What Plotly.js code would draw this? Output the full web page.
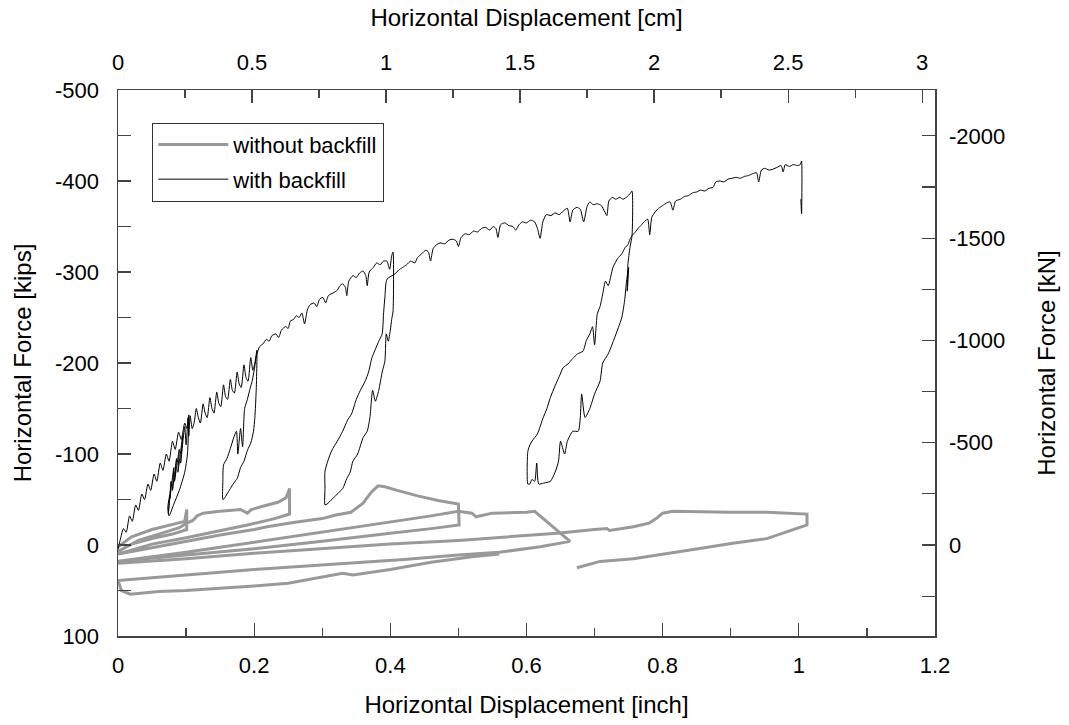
<!DOCTYPE html>
<html>
<head>
<meta charset="utf-8">
<script src="https://cdn.plot.ly/plotly-3.0.1.min.js"></script>
<style>html,body{margin:0;padding:0;background:#fff;}#chart{width:1069px;height:725px;}</style>
</head>
<body>
<div id="chart"></div>
<script>
// ---- Data (displacement in inch, force in kips; negative force = push) ----
const withBackfillX = [
  0.000,0.004,0.008,0.012,0.017,0.021,0.026,0.030,0.035,0.039,0.044,0.048,0.053,0.057,0.062,0.066,0.071,0.075,0.080,0.084,0.089,0.093,0.098,0.101,0.104,
  0.102,0.098,0.090,0.082,0.075,0.073,0.076,0.074,0.078,0.076,0.082,0.080,0.086,0.083,0.090,0.088,0.095,0.092,0.098,0.100,0.103,0.104,0.106,
  0.109,0.112,0.115,0.118,0.121,0.125,0.128,0.131,0.135,0.138,0.141,0.145,0.148,0.151,0.155,0.158,0.161,0.165,0.168,0.171,0.175,0.178,0.181,0.185,0.188,0.191,0.195,0.198,0.201,0.204,
  0.204,0.203,0.201,0.199,0.195,0.190,0.185,0.180,0.175,0.170,0.165,0.160,0.156,0.154,
  0.154,0.155,0.160,0.165,0.170,0.174,0.176,0.180,0.183,0.186,0.190,0.194,0.197,0.200,0.204,
  0.208,0.213,0.218,0.222,0.226,0.232,0.236,0.240,0.246,0.250,0.253,0.258,0.262,0.266,0.270,0.274,0.278,0.282,0.288,0.292,0.296,0.301,0.305,0.309,0.316,0.322,0.326,0.330,0.334,0.336,0.339,0.345,0.350,0.355,0.360,0.364,0.366,0.369,0.375,0.380,0.385,0.390,0.395,0.399,0.402,0.404,
  0.404,0.402,0.400,0.397,0.394,0.392,0.388,0.383,0.378,0.374,0.370,0.366,0.360,0.352,0.345,0.341,0.336,0.330,0.322,0.314,0.307,0.304,
  0.304,0.304,0.308,0.314,0.322,0.330,0.337,0.343,0.350,0.356,0.363,0.368,0.373,0.378,0.383,0.388,0.390,0.392,0.395,
  0.407,0.412,0.418,0.424,0.430,0.436,0.440,0.446,0.452,0.456,0.459,0.463,0.468,0.473,0.480,0.486,0.492,0.497,0.500,0.504,0.510,0.516,0.522,0.528,0.534,0.540,0.546,0.551,0.555,0.558,0.562,0.568,0.574,0.580,0.584,0.589,0.594,0.600,0.606,0.612,0.616,0.620,0.624,0.629,0.636,0.642,0.648,0.654,0.660,0.664,0.668,0.674,0.679,0.684,0.689,0.693,0.698,0.704,0.710,0.715,0.718,0.721,0.726,0.731,0.737,0.742,0.748,0.752,0.755,
  0.755,0.752,0.749,0.748,0.750,0.747,0.744,0.740,0.735,0.728,0.720,0.712,0.708,0.700,0.693,0.686,0.681,0.679,0.676,0.668,0.660,0.656,0.650,0.647,0.642,0.635,0.625,0.618,0.615,0.612,0.608,0.605,
  0.602,0.601,0.602,0.605,0.608,0.612,0.616,0.620,0.624,0.630,0.635,0.642,0.648,0.654,0.661,0.668,0.675,0.683,0.688,0.693,0.697,0.700,0.704,0.708,0.712,0.716,0.720,0.727,0.734,0.740,0.745,0.749,0.752,0.755,
  0.760,0.764,0.769,0.774,0.778,0.781,0.784,0.789,0.794,0.800,0.806,0.811,0.815,0.819,0.826,0.832,0.838,0.844,0.850,0.856,0.862,0.868,0.874,0.878,0.884,0.890,0.896,0.902,0.908,0.914,0.920,0.926,0.932,0.938,0.941,0.945,0.950,0.956,0.962,0.968,0.974,0.977,0.980,0.986,0.992,0.998,1.002,1.004,1.004,1.003
];
const withBackfillF = [
  5,-8,-18,-14,-32,-26,-44,-38,-56,-50,-67,-60,-78,-70,-90,-82,-100,-92,-114,-105,-124,-116,-134,-128,-143,
  -100,-80,-60,-45,-32,-40,-55,-35,-70,-50,-85,-60,-95,-70,-105,-80,-120,-90,-130,-110,-140,-120,-142,
  -128,-135,-150,-140,-134,-155,-145,-140,-162,-150,-145,-168,-156,-152,-176,-163,-160,-182,-170,-167,-190,-177,-173,-198,-184,-180,-206,-192,-200,-214,
  -200,-170,-140,-125,-112,-104,-92,-85,-73,-68,-62,-56,-51,-50,
  -70,-88,-95,-106,-118,-125,-100,-128,-108,-150,-160,-172,-180,-192,-210,
  -218,-221,-226,-224,-230,-232,-228,-236,-240,-238,-246,-248,-252,-250,-255,-243,-258,-264,-266,-262,-270,-272,-266,-274,-277,-280,-285,-287,-283,-274,-290,-296,-294,-299,-301,-296,-285,-300,-305,-310,-308,-312,-312,-303,-318,-322,
  -257,-248,-236,-224,-232,-202,-190,-170,-158,-170,-140,-125,-118,-100,-92,-80,-73,-62,-56,-50,-45,-44,
  -62,-81,-92,-104,-114,-125,-137,-144,-160,-170,-180,-190,-206,-215,-224,-232,-254,-272,-292,
  -298,-302,-305,-308,-312,-310,-316,-320,-324,-322,-312,-326,-330,-332,-331,-335,-336,-334,-328,-338,-342,-341,-345,-344,-348,-349,-346,-350,-348,-338,-352,-354,-351,-350,-346,-352,-355,-354,-357,-355,-348,-337,-355,-363,-362,-365,-363,-367,-370,-355,-368,-371,-369,-355,-372,-377,-374,-375,-373,-366,-362,-378,-382,-380,-382,-380,-383,-386,-389,
  -340,-327,-309,-279,-305,-290,-268,-250,-239,-225,-210,-200,-180,-166,-150,-140,-166,-140,-125,-125,-114,-100,-114,-92,-80,-70,-68,-67,-90,-70,-72,-67,
  -67,-85,-103,-110,-114,-118,-122,-130,-139,-150,-162,-175,-185,-195,-199,-205,-210,-213,-225,-232,-240,-220,-254,-262,-276,-290,-285,-305,-315,-320,-327,-330,-336,-340,
  -344,-348,-352,-356,-358,-341,-360,-366,-370,-373,-376,-377,-368,-378,-380,-383,-384,-387,-388,-390,-389,-392,-393,-399,-400,-399,-402,-403,-404,-403,-405,-406,-408,-409,-399,-412,-414,-412,-413,-415,-417,-410,-418,-416,-418,-417,-418,-422,-364,-380
];

// gray curve; null marks a pen lift between two recorded strokes
const withoutBackfillX = [
  0.000,0.020,0.050,0.080,0.098,0.101,0.101,0.080,0.050,0.020,0.000,
  0.030,0.060,0.090,0.101,0.110,0.116,0.125,0.150,0.180,0.190,0.196,0.210,0.235,0.247,0.252,0.252,
  0.230,0.190,0.140,0.100,0.050,0.000,
  0.050,0.100,0.150,0.200,0.219,0.260,0.300,0.320,0.342,0.360,0.372,0.382,0.392,0.410,0.440,0.470,0.500,0.501,
  0.460,0.400,0.300,0.200,0.100,0.000,
  0.100,0.200,0.300,0.400,0.460,0.500,0.520,0.526,0.550,0.600,0.612,0.664,
  0.650,0.620,0.560,0.500,0.420,0.300,0.200,0.100,0.000,
  0.005,0.018,0.060,0.100,0.200,0.250,0.330,0.345,0.400,0.460,0.520,0.560,
  null,
  0.000,0.100,0.200,0.300,0.400,0.500,0.560,0.600,0.645,0.700,0.718,0.722,0.757,0.780,0.792,0.800,0.815,0.900,0.953,1.012,1.012,
  0.953,0.903,0.845,0.757,0.708,0.674
];
const withoutBackfillF = [
  2,-9,-17,-23,-26,-39,-17,-12,-7,-1,7,
  -5,-12,-19,-24,-27,-32,-35,-37,-39,-35,-39,-42,-47,-52,-62,-34,
  -29,-22,-14,-8,-1,10,
  3,-4,-11,-17,-20,-25,-29,-33,-36,-46,-58,-65,-64,-60,-54,-49,-45,-22,
  -18,-13,-4,4,11,18,
  8,-3,-14,-25,-32,-37,-35,-31,-35,-36,-37,-4,
  -2,2,8,11,16,22,27,33,39,
  50,54,51,50,45,42,31,33,27,19,13,10,
  null,
  20,15,9,4,-1,-5,-8,-10,-13,-17,-18,-16,-20,-24,-30,-35,-37,-36,-36,-34,-22,
  -7,-2,5,15,18,25
];

// axis tick definitions
const kipTicks = [-500,-400,-300,-200,-100,0,100];
const kNTicks = [-2000,-1500,-1000,-500,0];
const inchTicks = [0,0.2,0.4,0.6,0.8,1,1.2];
const cmTicks = [0,0.5,1,1.5,2,2.5,3];
const KIP_TO_KN = 4.44822;
const IN_TO_CM = 2.54;

const FONT = 'Liberation Sans, Arial, sans-serif';
const axisCol = '#444';

const traces = [
  {x: withoutBackfillX, y: withoutBackfillF, type:'scatter', mode:'lines', name:'without backfill',
   legendgroup:'a', connectgaps:false, line:{color:'#999999', width:3}, hoverinfo:'skip'},
  {x: withBackfillX, y: withBackfillF, type:'scatter', mode:'lines', name:'with backfill',
   legendgroup:'b', line:{color:'#000000', width:1, shape:'spline', smoothing:0.6}, hoverinfo:'skip'},
  {x: [], y: [], xaxis:'x2', yaxis:'y2', type:'scatter', mode:'lines', showlegend:false, hoverinfo:'skip'}
];

const common = {showgrid:false, zeroline:false, showline:true, linecolor:axisCol, linewidth:1.5,
  ticks:'inside', ticklen:13, tickwidth:1.2, tickcolor:axisCol, tickfont:{family:FONT, size:22, color:'#000'}};
const titleFont = {family:FONT, size:24, color:'#000'};

const layout = {
  width:1069, height:725,
  margin:{l:118, r:134, t:90, b:89},
  paper_bgcolor:'#fff', plot_bgcolor:'#fff',
  font:{family:FONT, size:22, color:'#000'},
  showlegend:true,
  legend:{x:0.042, y:0.94, xanchor:'left', yanchor:'top', bgcolor:'#fff', bordercolor:'#333', borderwidth:1,
          font:{family:FONT, size:22, color:'#000'}, tracegroupgap:3, itemwidth:70},
  xaxis: Object.assign({}, common, {range:[0,1.2], tickvals:inchTicks, ticktext:inchTicks.map(String),
          minor:{dtick:0.1, ticks:'inside', ticklen:8, tickcolor:axisCol},
          ticklabelstandoff:9,
          title:{text:'Horizontal Displacement [inch]', font:titleFont, standoff:19}}),
  xaxis2: Object.assign({}, common, {overlaying:'x', side:'top', anchor:'y', range:[0,1.2*IN_TO_CM],
          tickvals:cmTicks, ticktext:cmTicks.map(String),
          minor:{dtick:0.25, ticks:'inside', ticklen:8, tickcolor:axisCol},
          ticklabelstandoff:10,
          title:{text:'Horizontal Displacement [cm]', font:titleFont, standoff:16}}),
  yaxis: Object.assign({}, common, {range:[100,-500], tickvals:kipTicks, ticktext:kipTicks.map(String),
          minor:{dtick:50, ticks:'inside', ticklen:13, tickcolor:axisCol},
          ticklabelstandoff:13,
          title:{text:'Horizontal Force [kips]', font:titleFont, standoff:16}}),
  yaxis2: Object.assign({}, common, {overlaying:'y', side:'right', anchor:'x', range:[100*KIP_TO_KN,-500*KIP_TO_KN],
          tickvals:kNTicks, ticktext:kNTicks.map(String),
          minor:{dtick:250, ticks:'inside', ticklen:13, tickcolor:axisCol},
          ticklabelstandoff:8,
          title:{text:'Horizontal Force [kN]', font:titleFont, standoff:34}})
};

Plotly.newPlot('chart', traces, layout, {staticPlot:true, displayModeBar:false});
</script>
</body>
</html>
